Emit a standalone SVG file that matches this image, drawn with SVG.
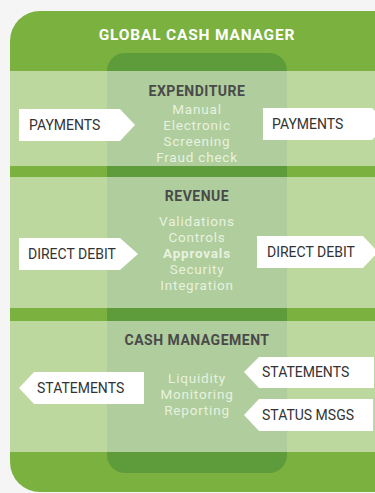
<svg xmlns="http://www.w3.org/2000/svg" width="375" height="493" viewBox="0 0 375 493">
<style>
.h{font-family:Roboto,"Liberation Sans",sans-serif;font-weight:700;text-anchor:middle}
.s{font-size:14px;fill:#4a4a4a;letter-spacing:0.5px}
.t{font-family:Roboto,"Liberation Sans",sans-serif;font-size:13.5px;fill:#e8f2df;text-anchor:middle;letter-spacing:0.8px}
.b{font-family:Roboto,"Liberation Sans",sans-serif;font-size:14px;fill:#333}
.band{fill:#fff;fill-opacity:0.5}
.box{fill:#fff}
</style>
<rect width="375" height="493" fill="#f5f5f5"/>
<g id="frame">
<rect x="10" y="11" width="400" height="481" rx="30" fill="#7bb13e"/>
<text class="h" x="197" y="40" font-size="15.5" fill="#fff" letter-spacing="0.8">GLOBAL CASH MANAGER</text>
<rect x="107" y="53" width="180" height="420" rx="18" fill="#5e9b3a"/>
<rect class="band" x="10" y="71" width="365" height="95"/>
<rect class="band" x="10" y="177" width="365" height="131"/>
<rect class="band" x="10" y="321" width="365" height="131"/>
</g>
<g id="expenditure">
<text class="h s" x="197" y="96">EXPENDITURE</text>
<text class="t" x="197" y="114">Manual</text>
<text class="t" x="197" y="130">Electronic</text>
<text class="t" x="197" y="146">Screening</text>
<text class="t" x="197" y="162">Fraud check</text>
</g>
<g id="revenue">
<text class="h s" x="197" y="201">REVENUE</text>
<text class="t" x="197" y="226">Validations</text>
<text class="t" x="197" y="242">Controls</text>
<text class="t" x="197" y="258" font-weight="700">Approvals</text>
<text class="t" x="197" y="274">Security</text>
<text class="t" x="197" y="290">Integration</text>
</g>
<g id="cash-management">
<text class="h s" x="197" y="345">CASH MANAGEMENT</text>
<text class="t" x="197" y="383">Liquidity</text>
<text class="t" x="197" y="399">Monitoring</text>
<text class="t" x="197" y="415">Reporting</text>
</g>
<g id="connectors">
<g id="payments-in"><polygon class="box" points="19,109 120,109 135,125 120,141 19,141"/><text class="b" x="29" y="130">PAYMENTS</text></g>
<g id="payments-out"><polygon class="box" points="263,108 372,108 388,124 372,140 263,140"/><text class="b" x="272" y="129">PAYMENTS</text></g>
<g id="dd-in"><polygon class="box" points="19,238 120,238 138,254 120,270 19,270"/><text class="b" x="28" y="259">DIRECT DEBIT</text></g>
<g id="dd-out"><polygon class="box" points="257,236 363,236 378,252 363,268 257,268"/><text class="b" x="267" y="257">DIRECT DEBIT</text></g>
<g id="statements-out"><polygon class="box" points="19,388 34,372 144,372 144,404 34,404"/><text class="b" x="37" y="393">STATEMENTS</text></g>
<g id="statements-in"><polygon class="box" points="244,372 259,357 374,357 374,388 259,388"/><text class="b" x="262" y="377">STATEMENTS</text></g>
<g id="status-in"><polygon class="box" points="244,415 259,399 373,399 373,431 259,431"/><text class="b" x="262" y="420">STATUS MSGS</text></g>
</g>
</svg>
